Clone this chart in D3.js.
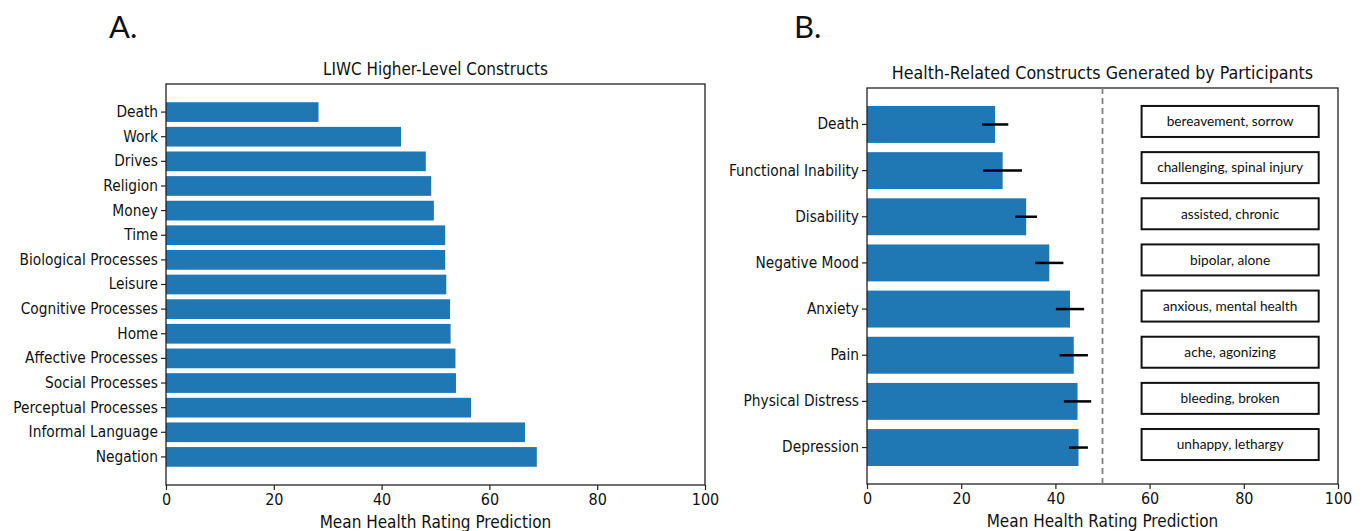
<!DOCTYPE html>
<html>
<head>
<meta charset="utf-8">
<script src="https://cdn.jsdelivr.net/npm/d3@7"></script>
<style>
  body { margin: 0; background: #fff; }
  text { fill: #111; }
</style>
</head>
<body>
<svg id="mainsvg" width="1362" height="531"></svg>
<script>
// panel A data
const catsA = ['Death', 'Work', 'Drives', 'Religion', 'Money', 'Time', 'Biological Processes', 'Leisure',
  'Cognitive Processes', 'Home', 'Affective Processes', 'Social Processes', 'Perceptual Processes',
  'Informal Language', 'Negation'];
const valsA = [28.3, 43.6, 48.2, 49.2, 49.7, 51.8, 51.8, 52.0, 52.7, 52.8, 53.7, 53.8, 56.6, 66.6, 68.8];

// panel B data
const catsB = ['Death', 'Functional Inability', 'Disability', 'Negative Mood', 'Anxiety', 'Pain',
  'Physical Distress', 'Depression'];
const valsB = [27.2, 28.8, 33.8, 38.7, 43.1, 43.9, 44.7, 44.9];
const errB = [2.8, 4.1, 2.3, 3.0, 3.0, 3.0, 2.9, 2.0];
const wordsB = ['bereavement, sorrow', 'challenging, spinal injury', 'assisted, chronic', 'bipolar, alone',
  'anxious, mental health', 'ache, agonizing', 'bleeding, broken', 'unhappy, lethargy'];

const xTicks = [0, 20, 40, 60, 80, 100];
const refLine = 50;

const svg = d3.select('#mainsvg');
const blue = '#1f77b4';
const tickFont = "'DejaVu Sans Condensed', 'DejaVu Sans', sans-serif";
const boxFont = "Lato, 'Open Sans', sans-serif";

function panel(box, cats, vals, padOuter, title, titleSize) {
  const g = svg.append('g');
  const x = d3.scaleLinear().domain([0, 100]).range([box.left, box.right]);
  const y = d3.scaleBand().domain(cats).range([box.top, box.bottom])
    .paddingInner(0.2).paddingOuter(padOuter);

  g.selectAll('rect.bar')
    .data(cats)
    .join('rect')
    .attr('class', 'bar')
    .attr('x', x(0))
    .attr('y', d => y(d))
    .attr('width', (d, i) => x(vals[i]) - x(0))
    .attr('height', y.bandwidth())
    .attr('fill', blue);

  // x axis
  const xa = g.append('g')
    .attr('transform', `translate(0, ${box.bottom})`)
    .call(d3.axisBottom(x).tickValues(xTicks).tickSize(5).tickPadding(4).tickSizeOuter(0));
  xa.select('.domain').remove();
  xa.selectAll('text').style('font-family', tickFont).style('font-size', '16px').attr('fill', '#111');
  xa.selectAll('line').attr('stroke', '#222').attr('stroke-width', 1.2);

  // y axis
  const ya = g.append('g')
    .attr('transform', `translate(${box.left}, 0)`)
    .call(d3.axisLeft(y).tickSize(5).tickPadding(3).tickSizeOuter(0));
  ya.select('.domain').remove();
  ya.selectAll('text').style('font-family', tickFont).style('font-size', '15.3px').attr('fill', '#111');
  ya.selectAll('line').attr('stroke', '#222').attr('stroke-width', 1.2);

  // frame
  g.append('rect')
    .attr('x', box.left).attr('y', box.top)
    .attr('width', box.right - box.left).attr('height', box.bottom - box.top)
    .attr('fill', 'none').attr('stroke', '#222').attr('stroke-width', 1.3);

  g.append('text')
    .attr('x', (box.left + box.right) / 2)
    .attr('y', box.top - 9)
    .attr('text-anchor', 'middle')
    .style('font-family', tickFont).style('font-size', titleSize + 'px')
    .text(title);

  g.append('text')
    .attr('x', (box.left + box.right) / 2)
    .attr('y', box.bottom + 43)
    .attr('text-anchor', 'middle')
    .style('font-family', tickFont).style('font-size', '17px')
    .text('Mean Health Rating Prediction');

  return {g, x, y};
}

// Panel A
panel({left: 166, right: 705, top: 84, bottom: 485}, catsA, valsA, 0.74, 'LIWC Higher-Level Constructs', 16.9);

// Panel B
const pB = panel({left: 867, right: 1338, top: 88, bottom: 484}, catsB, valsB, 0.39,
  'Health-Related Constructs Generated by Participants', 17.7);

// dashed reference line
pB.g.append('line')
  .attr('x1', pB.x(refLine)).attr('x2', pB.x(refLine))
  .attr('y1', 88).attr('y2', 484)
  .attr('stroke', '#808080').attr('stroke-width', 1.8)
  .attr('stroke-dasharray', '6,4');

// error bars
pB.g.selectAll('line.err')
  .data(catsB)
  .join('line')
  .attr('class', 'err')
  .attr('x1', (d, i) => pB.x(valsB[i] - errB[i]))
  .attr('x2', (d, i) => pB.x(valsB[i] + errB[i]))
  .attr('y1', d => pB.y(d) + pB.y.bandwidth() / 2)
  .attr('y2', d => pB.y(d) + pB.y.bandwidth() / 2)
  .attr('stroke', '#000').attr('stroke-width', 2.5);

// word boxes
const boxL = pB.x(58.3), boxR = pB.x(95.9), boxH = 31;
const words = pB.g.selectAll('g.word')
  .data(catsB)
  .join('g')
  .attr('class', 'word')
  .attr('transform', d => `translate(0, ${pB.y(d) + pB.y.bandwidth() / 2 - 3})`);

words.append('rect')
  .attr('x', boxL).attr('y', -boxH / 2)
  .attr('width', boxR - boxL).attr('height', boxH)
  .attr('fill', '#fff').attr('stroke', '#111').attr('stroke-width', 2);

words.append('text')
  .attr('x', (boxL + boxR) / 2)
  .attr('y', 0)
  .attr('dy', '0.35em')
  .attr('text-anchor', 'middle')
  .style('font-family', boxFont).style('font-size', '13.7px')
  .text((d, i) => wordsB[i]);

// panel letters
svg.append('text').attr('x', 109).attr('y', 38)
  .style('font-family', boxFont).style('font-size', '31px').text('A.');
svg.append('text').attr('x', 794).attr('y', 38)
  .style('font-family', boxFont).style('font-size', '31px').text('B.');
</script>
</body>
</html>
